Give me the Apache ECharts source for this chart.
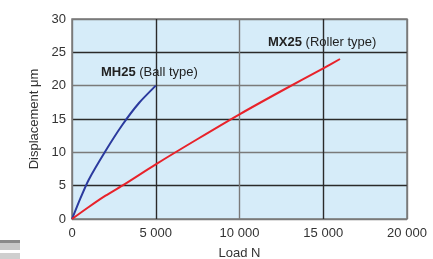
<!DOCTYPE html>
<html>
<head>
<meta charset="utf-8">
<script src="https://cdn.jsdelivr.net/npm/echarts@6/dist/echarts.min.js"></script>
<style>
  html, body { margin: 0; padding: 0; background: #fff; }
  #chart { width: 433px; height: 259px; }
</style>
</head>
<body>
<div id="chart"></div>
<script>
// load (N) vs displacement (um)
const ballLoad = [0, 500, 1000, 2000, 3000, 4000, 5000];
const ballDisp = [0, 3.1, 5.9, 10.2, 14.1, 17.4, 20];
const rollerLoad = [0, 1000, 2000, 3000, 5000, 7500, 10000, 12500, 15000, 16000];
const rollerDisp = [0, 1.8, 3.5, 5.0, 8.2, 12, 15.7, 19.2, 22.6, 24];
const xTicks = [0, 5000, 10000, 15000, 20000];
const yTicks = [0, 5, 10, 15, 20, 25, 30];

const font = '"Liberation Sans", Arial, sans-serif';
const pairs = (xs, ys) => xs.map((x, i) => [x, ys[i]]);
const fmtLoad = v => v >= 1000 ? String(v).replace(/(\d)(?=(\d{3})+$)/, '$1 ') : String(v);

let myChart = echarts.init(document.getElementById('chart'), null, { renderer: 'canvas' });
const option = {
    animation: false,
    grid: {
        left: 72, right: 26, top: 19, bottom: 40,
        outerBoundsMode: 'none',
        containLabel: false,
        show: true,
        backgroundColor: '#d6ecf9',
        borderColor: '#7a7a7a',
        borderWidth: 1.5
    },
    xAxis: {
        type: 'value',
        min: xTicks[0], max: xTicks[xTicks.length - 1], interval: 5000,
        name: 'Load N',
        nameLocation: 'middle',
        nameGap: 28,
        nameTextStyle: { fontFamily: font, fontSize: 13, color: '#333' },
        axisLine: { show: false },
        axisTick: { show: false },
        axisLabel: { fontFamily: font, fontSize: 13, color: '#333', margin: 8, formatter: fmtLoad },
        splitLine: { lineStyle: { color: ['#7a7a7a', '#2a2a2a'], width: 1.4 } }
    },
    yAxis: {
        type: 'value',
        min: yTicks[0], max: yTicks[yTicks.length - 1], interval: 5,
        name: 'Displacement μm',
        nameLocation: 'middle',
        nameGap: 30,
        nameTextStyle: { fontFamily: font, fontSize: 13, color: '#333' },
        axisLine: { show: false },
        axisTick: { show: false },
        axisLabel: { fontFamily: font, fontSize: 13, color: '#333', margin: 6 },
        splitLine: { lineStyle: { color: ['#7a7a7a', '#2a2a2a'], width: 1.4 } }
    },
    series: [
        {
            name: 'MH25 (Ball type)',
            type: 'line',
            data: pairs(ballLoad, ballDisp),
            smooth: 0.2,
            showSymbol: false,
            lineStyle: { color: '#2b3a9e', width: 2 }
        },
        {
            name: 'MX25 (Roller type)',
            type: 'line',
            data: pairs(rollerLoad, rollerDisp),
            smooth: 0.3,
            showSymbol: false,
            lineStyle: { color: '#e8222a', width: 2 }
        }
    ],
    graphic: [
        {
            type: 'text', left: 101, top: 66,
            style: {
                text: '{b|MH25} (Ball type)',
                font: '13px ' + font, fill: '#222',
                rich: { b: { fontWeight: 'bold', fontFamily: font, fontSize: 13, fill: '#222' } }
            }
        },
        {
            type: 'text', left: 268, top: 36,
            style: {
                text: '{b|MX25} (Roller type)',
                font: '13px ' + font, fill: '#222',
                rich: { b: { fontWeight: 'bold', fontFamily: font, fontSize: 13, fill: '#222' } }
            }
        },
        { type: 'rect', shape: { x: 0, y: 240, width: 20, height: 3 }, style: { fill: '#8a8a8a' } },
        { type: 'rect', shape: { x: 0, y: 243, width: 20, height: 7 }, style: { fill: '#c8c8c8' } },
        { type: 'rect', shape: { x: 0, y: 253, width: 20, height: 6 }, style: { fill: '#cfcfcf' } }
    ]
};
myChart.setOption(option);
</script>
</body>
</html>
